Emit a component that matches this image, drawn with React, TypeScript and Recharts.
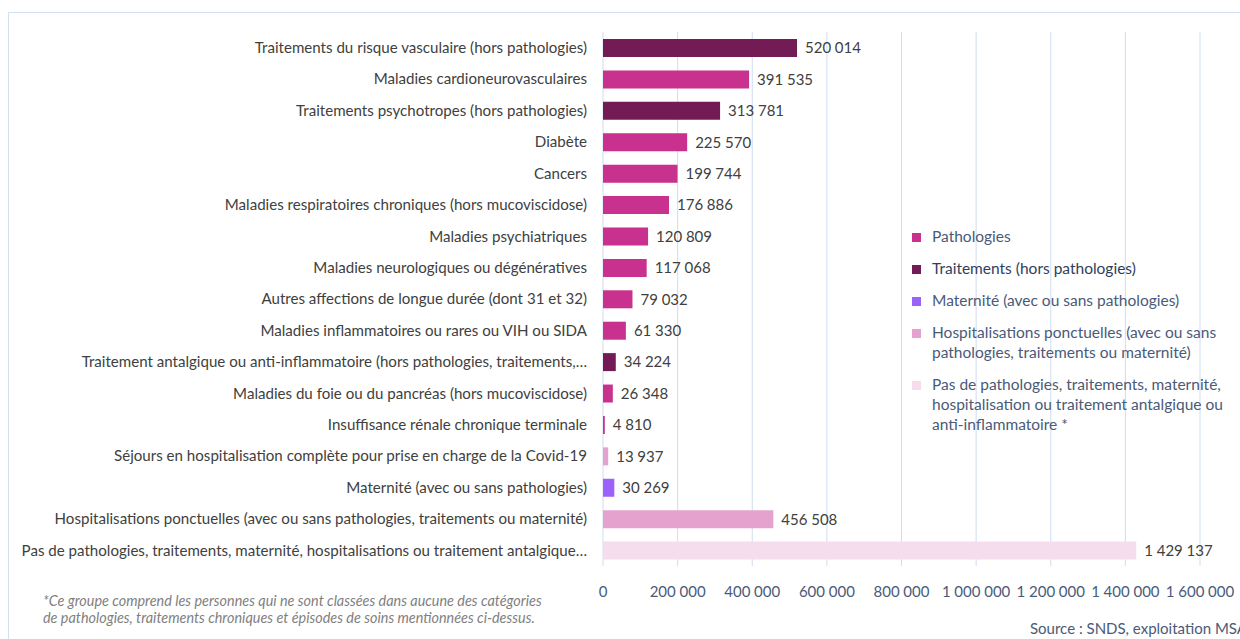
import React from 'react';
import { BarChart, Bar, XAxis, YAxis, CartesianGrid, Cell, LabelList } from 'recharts';

const categories = [
  'Traitements du risque vasculaire (hors pathologies)',
  'Maladies cardioneurovasculaires',
  'Traitements psychotropes (hors pathologies)',
  'Diabète',
  'Cancers',
  'Maladies respiratoires chroniques (hors mucoviscidose)',
  'Maladies psychiatriques',
  'Maladies neurologiques ou dégénératives',
  'Autres affections de longue durée (dont 31 et 32)',
  'Maladies inflammatoires ou rares ou VIH ou SIDA',
  'Traitement antalgique ou anti-inflammatoire (hors pathologies, traitements,…',
  'Maladies du foie ou du pancréas (hors mucoviscidose)',
  'Insuffisance rénale chronique terminale',
  'Séjours en hospitalisation complète pour prise en charge de la Covid-19',
  'Maternité (avec ou sans pathologies)',
  'Hospitalisations ponctuelles (avec ou sans pathologies, traitements ou maternité)',
  'Pas de pathologies, traitements, maternité, hospitalisations ou traitement antalgique…',
];

const values = [
  520014, 391535, 313781, 225570, 199744, 176886, 120809, 117068, 79032, 61330,
  34224, 26348, 4810, 13937, 30269, 456508, 1429137,
];

// group index per category -> legendItems
const groups = [1, 0, 1, 0, 0, 0, 0, 0, 0, 0, 1, 0, 0, 3, 2, 3, 4];

const legendItems = [
  { label: ['Pathologies'], color: '#C9318F' },
  { label: ['Traitements (hors pathologies)'], color: '#731B55' },
  { label: ['Maternité (avec ou sans pathologies)'], color: '#9B63FA' },
  { label: ['Hospitalisations ponctuelles (avec ou sans', 'pathologies, traitements ou maternité)'], color: '#E5A2CE' },
  {
    label: ['Pas de pathologies, traitements, maternité,', 'hospitalisation ou traitement antalgique ou', 'anti-inflammatoire *'],
    color: '#F6DDEE',
  },
];

const xTicks = [0, 200000, 400000, 600000, 800000, 1000000, 1200000, 1400000, 1600000];

const fmt = (v: number) => String(v).replace(/\B(?=(\d{3})+(?!\d))/g, '\u202F');

const data = categories.map((name, i) => ({ name, value: values[i], group: groups[i] }));

const FONT = 'Lato, "Open Sans", sans-serif';

const LegendBox = () => (
  <div style={{ position: 'absolute', left: 912, top: 226, width: 330, fontFamily: FONT, fontSize: 15.5, color: '#4A5A78' }}>
    {legendItems.map((item, i) => (
      <div key={i} style={{ display: 'flex', alignItems: 'flex-start', marginBottom: 12, lineHeight: '20px' }}>
        <span
          style={{
            width: 9,
            height: 9,
            background: item.color,
            marginTop: 7,
            marginRight: 11,
            flex: '0 0 auto',
          }}
        />
        <div>
          {item.label.map((l, j) => (
            <div key={j} style={{ color: i === 1 ? '#2F3E5C' : '#4A5A78', whiteSpace: 'nowrap' }}>{l}</div>
          ))}
        </div>
      </div>
    ))}
  </div>
);

export default function App() {
  return (
    <div style={{ position: 'absolute', left: 0, top: 0, width: 1240, height: 639, background: '#fff', overflow: 'hidden' }}>
      <div
        style={{
          position: 'absolute',
          left: 8,
          top: 12,
          width: 1300,
          height: 700,
          border: '1px solid #D3E0F2',
        }}
      />
      <div style={{ position: 'absolute', left: 0, top: 0 }}>
        <BarChart
          width={1240}
          height={639}
          data={data}
          layout="vertical"
          margin={{ top: 32, right: 40, left: 0, bottom: 43 }}
          barCategoryGap={6}
        >
          <CartesianGrid horizontal={false} stroke="#CFDDF1" />
          <XAxis
            type="number"
            domain={[0, 1600000]}
            ticks={xTicks}
            interval={0}
            tickFormatter={fmt}
            axisLine={false}
            tickLine={false}
            height={30}
            tickMargin={14}
            tick={{ fill: '#4A5A78', fontSize: 15, fontFamily: FONT }}
          />
          <YAxis
            type="category"
            dataKey="name"
            width={603}
            axisLine={false}
            tickLine={false}
            tickMargin={10}
            interval={0}
            tick={{ fill: '#404040', fontSize: 15.1, fontFamily: FONT }}
          />
          <Bar dataKey="value" barSize={18} isAnimationActive={false}>
            {data.map((d, i) => (
              <Cell key={i} fill={legendItems[d.group].color} />
            ))}
            <LabelList
              dataKey="value"
              position="right"
              offset={8}
              formatter={(v: any) => fmt(Number(v))}
              style={{ fill: '#404040', fontSize: 15, fontFamily: FONT }}
            />
          </Bar>
        </BarChart>
      </div>
      <LegendBox />
      <div
        style={{
          position: 'absolute',
          left: 43,
          top: 592,
          fontFamily: FONT,
          fontStyle: 'italic',
          fontSize: 14.4,
          lineHeight: '17px',
          color: '#7F7F7F',
        }}
      >
        <div>*Ce groupe comprend les personnes qui ne sont classées dans aucune des catégories</div>
        <div>de pathologies, traitements chroniques et épisodes de soins mentionnées ci-dessus.</div>
      </div>
      <div
        style={{
          position: 'absolute',
          left: 1030,
          top: 619,
          fontFamily: FONT,
          fontSize: 15,
          color: '#4A5A78',
          whiteSpace: 'nowrap',
        }}
      >
        Source : SNDS, exploitation MSA
      </div>
    </div>
  );
}
